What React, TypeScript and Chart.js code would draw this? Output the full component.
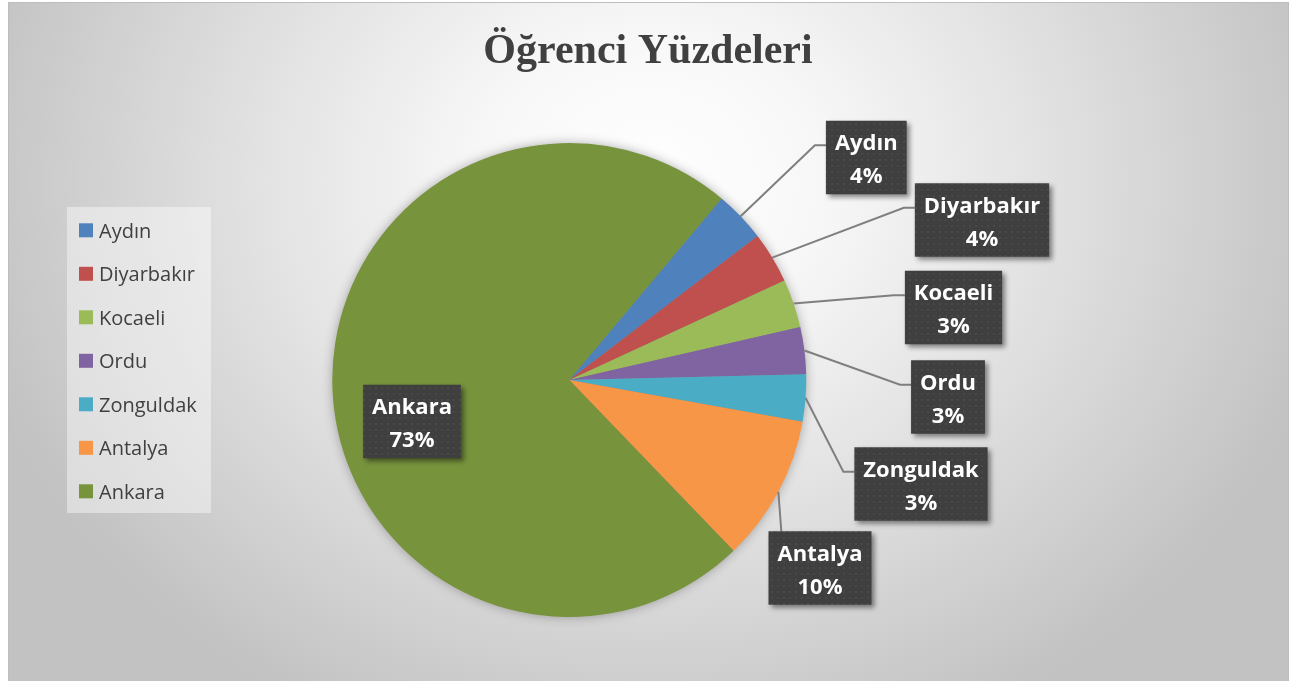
import React, { useEffect, useRef } from "react";
import { Chart, registerables } from "chart.js";

Chart.register(...registerables);

// ---- data ----
const TITLE = "Öğrenci Yüzdeleri";
const CATEGORIES = ["Aydın", "Diyarbakır", "Kocaeli", "Ordu", "Zonguldak", "Antalya", "Ankara"];
const PERCENTAGES = [3.5, 3.5, 3.3, 3.2, 3.2, 10.0, 73.3];
const COLORS = ["#4f81bd", "#c0504d", "#9bbb59", "#8064a2", "#4bacc6", "#f79646", "#77933c"];

// ---- layout (not data): label box centre offsets from the pie centre ----
const LABEL_OFFSETS: [number, number][] = [
  [297, -222.5],
  [412.7, -160],
  [384.2, -72.5],
  [378.7, 17],
  [351.7, 104],
  [250.7, 188],
  [-157.3, 41.5],
];

const W = 1281;
const H = 690;

function makePattern(ctx: CanvasRenderingContext2D) {
  const c = document.createElement("canvas");
  c.width = 6;
  c.height = 6;
  const p = c.getContext("2d")!;
  p.fillStyle = "#3f3f3f";
  p.fillRect(0, 0, 6, 6);
  p.fillStyle = "#494949";
  p.fillRect(1, 1, 2, 2);
  p.fillStyle = "#434343";
  p.fillRect(4, 4, 1, 1);
  return ctx.createPattern(c, "repeat") || "#404040";
}

const overlay = {
  id: "overlay",
  beforeDatasetsDraw(chart: any) {
    const ctx: CanvasRenderingContext2D = chart.ctx;
    const a = chart.getDatasetMeta(0).data[0];
    if (!a) return;
    const { x, y, outerRadius } = a.getProps(["x", "y", "outerRadius"], true);
    ctx.save();
    ctx.beginPath();
    ctx.arc(x, y, outerRadius - 1, 0, Math.PI * 2);
    ctx.fillStyle = "#888888";
    ctx.shadowColor = "rgba(0,0,0,0.35)";
    ctx.shadowBlur = 12;
    ctx.fill();
    ctx.restore();
  },
  afterDatasetsDraw(chart: any) {
    const ctx: CanvasRenderingContext2D = chart.ctx;
    const labels: string[] = chart.data.labels;
    const ds = chart.data.datasets[0];
    const values: number[] = ds.data;
    const colors: string[] = ds.backgroundColor;
    const total = values.reduce((s, v) => s + v, 0);

    // Title
    ctx.save();
    ctx.font = 'bold 42px "Liberation Serif", "Times New Roman", serif';
    ctx.fillStyle = "#404040";
    ctx.textAlign = "center";
    ctx.textBaseline = "alphabetic";
    ctx.fillText(TITLE, 640, 61.3);
    ctx.restore();

    // Legend
    ctx.save();
    ctx.fillStyle = "rgba(255,255,255,0.42)";
    ctx.fillRect(59, 205, 144, 306);
    ctx.font = '20px "Open Sans", sans-serif';
    ctx.textAlign = "left";
    ctx.textBaseline = "alphabetic";
    labels.forEach((lab, i) => {
      ctx.fillStyle = colors[i];
      ctx.fillRect(71, 221.3 + 43.5 * i, 14, 14);
      ctx.fillStyle = "#404040";
      ctx.fillText(lab, 91, 235.6 + 43.5 * i);
    });
    ctx.restore();

    // Data labels
    const meta = chart.getDatasetMeta(0);
    const pattern = makePattern(ctx);
    ctx.save();
    ctx.font = 'bold 22px "Open Sans", sans-serif';
    meta.data.forEach((arc: any, i: number) => {
      const p = arc.getProps(["x", "y", "startAngle", "endAngle", "outerRadius"], true);
      const mid = (p.startAngle + p.endAngle) / 2;
      const ax = p.x + Math.cos(mid) * p.outerRadius;
      const ay = p.y + Math.sin(mid) * p.outerRadius;
      const [ox, oy] = LABEL_OFFSETS[i];
      const cx = p.x + ox;
      const cy = p.y + oy;
      const name = labels[i];
      const pct = Math.round((values[i] / total) * 100) + "%";
      const tw = Math.max(ctx.measureText(name).width, ctx.measureText(pct).width);
      const w = tw + 18;
      const h = 73.5;
      const left = cx - w / 2;
      const top = cy - h / 2;
      const inside = Math.hypot(ox, oy) < p.outerRadius;

      if (!inside) {
        ctx.save();
        ctx.strokeStyle = "#7f7f7f";
        ctx.lineWidth = 2;
        ctx.beginPath();
        ctx.moveTo(ax, ay);
        if (ax < left - 11) {
          const ey = top + 24.5;
          ctx.lineTo(left - 11, ey);
          ctx.lineTo(left, ey);
        } else {
          const ex = Math.min(Math.max(ax + 3, left), left + w);
          ctx.lineTo(ex, top);
        }
        ctx.stroke();
        ctx.restore();
      }

      ctx.save();
      ctx.shadowColor = "rgba(0,0,0,0.45)";
      ctx.shadowBlur = 5;
      ctx.shadowOffsetX = 3;
      ctx.shadowOffsetY = 3;
      ctx.fillStyle = pattern as any;
      ctx.fillRect(left, top, w, h);
      ctx.restore();

      ctx.fillStyle = "#ffffff";
      ctx.textAlign = "center";
      ctx.textBaseline = "alphabetic";
      ctx.fillText(name, cx, top + 29.7);
      ctx.fillText(pct, cx, top + 62.3);
    });
    ctx.restore();
  },
};

export default function App() {
  const ref = useRef<HTMLCanvasElement | null>(null);

  useEffect(() => {
    if (!ref.current) return;
    const chart = new Chart(ref.current, {
      type: "pie",
      data: {
        labels: CATEGORIES,
        datasets: [
          {
            data: PERCENTAGES,
            backgroundColor: COLORS,
            borderWidth: 0,
          },
        ],
      },
      options: {
        responsive: false,
        animation: false,
        events: [],
        rotation: 40,
        layout: {
          padding: { left: 324.3, right: 482.7, top: 141, bottom: 75 },
        },
        plugins: {
          legend: { display: false },
          title: { display: false },
          tooltip: { enabled: false },
        },
      },
      plugins: [overlay],
    } as any);
    return () => chart.destroy();
  }, []);

  return (
    <div
      style={{
        position: "fixed",
        left: 8,
        top: 2,
        width: W,
        height: H,
        background:
          "radial-gradient(ellipse 700px 600px at 642px 178px, #ffffff 0%, #f7f7f7 25%, #e3e3e3 55%, #c2c2c2 100%)",
        boxShadow: "inset 0 0 0 1px #bdbdbd",
      }}
    >
      <canvas ref={ref} width={W} height={H} style={{ display: "block" }} />
    </div>
  );
}
